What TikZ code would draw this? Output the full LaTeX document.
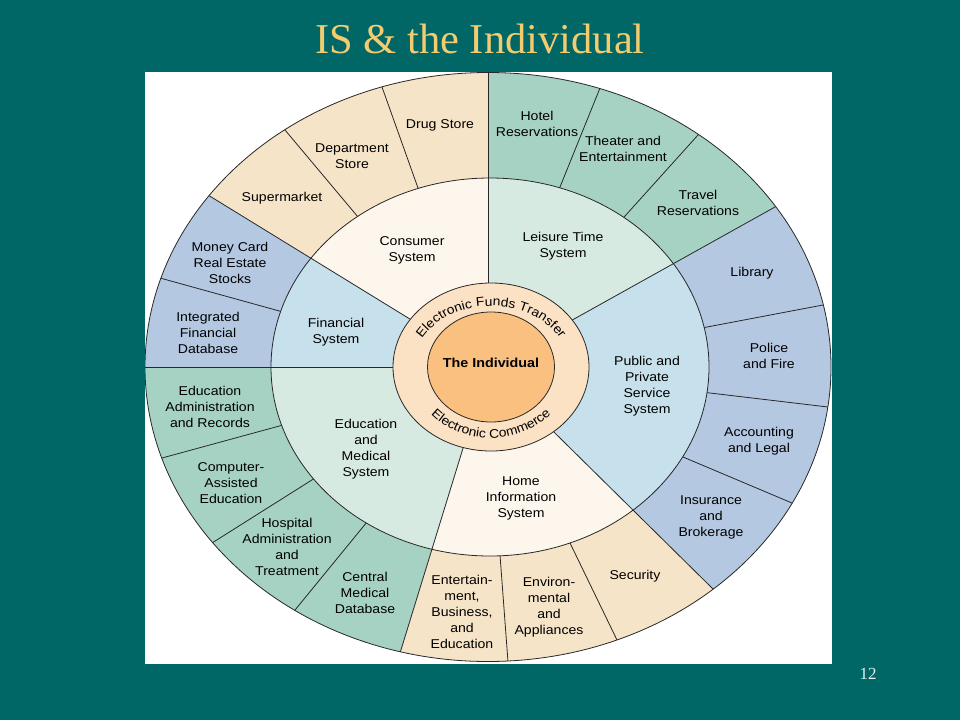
\documentclass[tikz,border=0pt]{standalone}
\usepackage{fontspec}
\setmainfont{Liberation Serif}
\newfontfamily\cellfont{Liberation Sans}[FakeStretch=1.1]
\usetikzlibrary{calc,decorations.text}
\definecolor{slidebg}{RGB}{0,102,102}
\definecolor{titlegold}{RGB}{242,204,110}
\definecolor{pagecol}{RGB}{225,242,242}
\definecolor{tanout}{RGB}{246,228,200}
\definecolor{tanmid}{RGB}{253,246,236}
\definecolor{greenout}{RGB}{166,210,196}
\definecolor{greenmid}{RGB}{214,234,226}
\definecolor{blueout}{RGB}{180,200,226}
\definecolor{bluemid}{RGB}{198,224,236}
\definecolor{ringpeach}{RGB}{252,226,196}
\definecolor{coreorange}{RGB}{250,192,128}
\definecolor{edge}{RGB}{40,40,40}
\tikzset{
  cell/.style={font=\cellfont\fontsize{12.8}{16}\selectfont,align=center,inner sep=0pt,text=black},
  cellline/.style={draw=edge,line width=0.8pt},
  ringtext/.style={decorate,decoration={text along path,text align=center,text={|\cellfont\fontsize{12.6}{14}\selectfont|#1}}}
}
\begin{document}
\begin{tikzpicture}[x=1pt,y=-1pt]
\useasboundingbox (0,0) rectangle (960,720);
\fill[slidebg] (0,0) rectangle (960,720); % slide
\node[font=\fontsize{42.5}{46}\selectfont,text=titlegold,anchor=base] (title) at (480,53) {IS \& the Individual};
\node[font=\fontsize{17}{20}\selectfont,text=pagecol,anchor=base] (pagenum) at (868,679) {12};
\fill[white] (145,72) rectangle (832,664); % panel

\coordinate (C) at (488,367); % centre of the wheel
\coordinate (M) at (490,367); % centre of the systems ring
\coordinate (R) at (491,367); % centre of the inner ring
\coordinate (o1) at (488,73);
\coordinate (o2) at (775,207);
\coordinate (o3) at (713,589);
\coordinate (o4) at (400,653);
\coordinate (o5) at (145,367);
\coordinate (o6) at (208,195);

\begin{scope}
\clip (145,72) rectangle (832,664);
% outer ring colours
\foreach \a/\b/\col in {o6/o1/tanout,o1/o2/greenout,o2/o3/blueout,o3/o4/tanout,o4/o5/greenout,o5/o6/blueout}{
  \begin{scope}
  \clip (C) -- ($(C)!3!(\a)$) -- ($(C)!3!(\b)$) -- cycle;
  \fill[\col] (C) ellipse [x radius=343pt,y radius=294.5pt];
  \end{scope}
}
% cell borders
\begin{scope}
\clip (C) ellipse [x radius=343pt,y radius=294.5pt];
\foreach \ax/\ay/\bx/\by in {358/217/285/130,418/188/382/87,560/187/600/88,625/216/698/135,
  707/327/823/305,710/393/828/407,683/457/792/503,570/543/617/640,500/555/508/662,
  367/522/295/610,315/478/212/543,283/425/162/458,283/312/160/278}
  \draw[cellline] ($(\ax,\ay)!-0.2!(\bx,\by)$) -- ($(\ax,\ay)!1.2!(\bx,\by)$);
\end{scope}
% systems ring colours
\foreach \a/\b/\col in {o6/o1/tanmid,o1/o2/greenmid,o2/o3/bluemid,o3/o4/tanmid,o4/o5/greenmid,o5/o6/bluemid}{
  \begin{scope}
  \clip (C) -- ($(C)!3!(\a)$) -- ($(C)!3!(\b)$) -- cycle;
  \fill[\col] (M) ellipse [x radius=219pt,y radius=189pt];
  \end{scope}
}
\draw[cellline] (M) ellipse [x radius=219pt,y radius=189pt];
\begin{scope}
\clip (C) ellipse [x radius=343pt,y radius=294.5pt];
\foreach \p in {o1,o2,o3,o4,o5,o6}
  \draw[cellline] (C) -- ($(C)!1.1!(\p)$); % system borders
\end{scope}
\draw[cellline] (C) ellipse [x radius=343pt,y radius=294.5pt];
\end{scope}

% centre
\filldraw[fill=ringpeach,draw=edge,line width=0.8pt] (R) ellipse [x radius=98pt,y radius=84pt];
\filldraw[fill=coreorange,draw=edge,line width=0.8pt] (R) ellipse [x radius=63.5pt,y radius=55pt];
\path[ringtext={Electronic Funds Transfer}] ($(R)+(-78,0)$) arc [start angle=180,end angle=0,x radius=78pt,y radius=61pt];
\path[ringtext={Electronic Commerce}] ($(R)+(-80,0)$) arc [start angle=180,end angle=360,x radius=80pt,y radius=71pt];
\node[cell,font=\cellfont\bfseries\fontsize{13}{16}\selectfont] (individual) at (491,363) {The Individual};

% systems
\node[cell] (consumer) at (412,250) {Consumer\\System};
\node[cell] (leisure) at (563,246) {Leisure Time\\System};
\node[cell] (public) at (647,386) {Public and\\Private\\Service\\System};
\node[cell] (home) at (521,498) {Home\\Information\\System};
\node[cell] (edumed) at (366,449) {Education\\and\\Medical\\System};
\node[cell] (financial) at (336,332) {Financial\\System};

% outer cells
\node[cell] (drug) at (440,125) {Drug Store};
\node[cell] (dept) at (352,156) {Department\\Store};
\node[cell] (superm) at (282,198) {Supermarket};
\node[cell] (hotel) at (537,124) {Hotel\\Reservations};
\node[cell] (theater) at (623,149) {Theater and\\Entertainment};
\node[cell] (travel) at (698,203) {Travel\\Reservations};
\node[cell] (library) at (752,273) {Library};
\node[cell] (police) at (769,356) {Police\\and Fire};
\node[cell] (accounting) at (759,441) {Accounting\\and Legal};
\node[cell] (insurance) at (711,517) {Insurance\\and\\Brokerage};
\node[cell] (security) at (635,576) {Security};
\node[cell] (environ) at (549,607) {Environ-\\mental\\and\\Appliances};
\node[cell] (entertain) at (462,612) {Entertain-\\ment,\\Business,\\and\\Education};
\node[cell] (central) at (365,593) {Central\\Medical\\Database};
\node[cell] (hospital) at (287,547) {Hospital\\Administration\\and\\Treatment};
\node[cell] (computer) at (231,483) {Computer-\\Assisted\\Education};
\node[cell] (eduadmin) at (210,407) {Education\\Administration\\and Records};
\node[cell] (integrated) at (208,333) {Integrated\\Financial\\Database};
\node[cell] (money) at (230,263) {Money Card\\Real Estate\\Stocks};
\end{tikzpicture}
\end{document}
